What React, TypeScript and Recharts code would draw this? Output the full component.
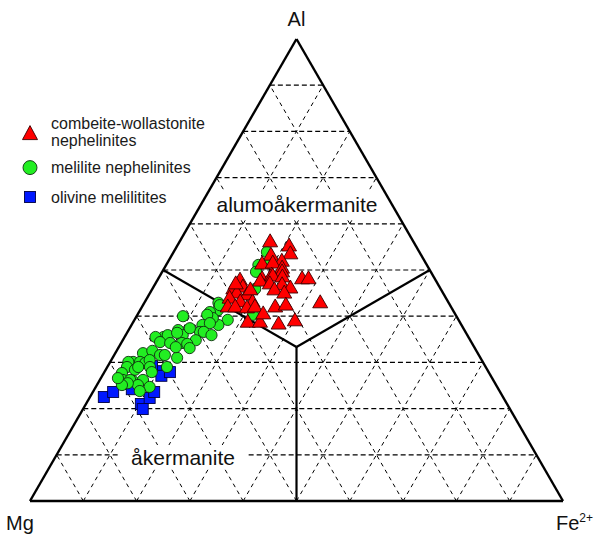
import React from 'react';
import { ScatterChart, Scatter, XAxis, YAxis, ReferenceLine, Legend } from 'recharts';

// Ternary compositions in percent: [Al, Fe2+]; Mg = 100 - Al - Fe2+
const combeiteWollastoniteNephelinites: [number, number][] = [
  [56.1, 17.0], [55.2, 21.0], [53.2, 18.6], [53.5, 22.1], [51.9, 21.3], [51.3, 17.9], [51.5, 19.8],
  [50.4, 22.1], [47.8, 15.5], [48.1, 19.5], [48.9, 20.9], [49.6, 22.5], [48.1, 27.0], [48.1, 28.2],
  [48.7, 21.2], [48.5, 23.1], [47.6, 19.4], [47.0, 21.5], [46.8, 23.9], [46.1, 25.8], [45.7, 23.0],
  [45.0, 25.2], [45.9, 15.2], [46.3, 16.8], [45.0, 16.3], [44.6, 18.4], [43.9, 15.5], [43.1, 17.9],
  [43.1, 20.2], [42.0, 16.1], [42.0, 17.5], [41.8, 19.8], [42.0, 21.2], [42.0, 25.0], [42.4, 26.8],
  [42.9, 33.0], [38.7, 21.5], [38.7, 23.8], [38.3, 27.5], [39.0, 30.2], [40.5, 23.5], [47.0, 15.1],
  [45.7, 18.5],
];

const meliliteNephelinites: [number, number][] = [
  [51.1, 17.3], [53.9, 17.5], [51.7, 19.1], [49.6, 17.6], [45.9, 19.3], [40.3, 21.7], [39.2, 17.5],
  [42.9, 13.9], [41.3, 14.6], [40.9, 13.3], [38.1, 16.3], [39.6, 14.5], [40.3, 13.1], [38.1, 13.3],
  [38.5, 14.5], [36.6, 13.6], [40.0, 8.7], [37.0, 9.3], [35.9, 10.7], [37.4, 11.3], [34.8, 13.7],
  [36.6, 14.3], [35.9, 16.1], [35.5, 7.3], [35.5, 5.8], [35.9, 7.9], [34.4, 7.2], [34.2, 9.2],
  [34.2, 11.4], [36.4, 9.4], [34.0, 12.5], [33.1, 13.4], [32.0, 5.2], [32.5, 6.7], [31.6, 8.6],
  [31.6, 9.5], [31.0, 12.1], [33.3, 10.7], [30.1, 4.3], [30.1, 5.6], [29.9, 6.7], [30.5, 7.2],
  [30.1, 3.4], [29.0, 3.7], [28.4, 5.5], [29.0, 5.8], [29.0, 8.0], [29.0, 11.2], [27.9, 8.9],
  [27.7, 3.4], [26.2, 4.3], [26.0, 6.3], [26.2, 8.1], [26.2, 5.7], [25.1, 7.7], [25.5, 5.6],
  [25.1, 4.7], [24.7, 10.1], [23.8, 8.7], [26.6, 3.2], [42.4, 14.4],
];

const olivineMelilitites: [number, number][] = [
  [22.5, 2.6], [23.6, 3.8], [24.2, 7.0], [21.0, 10.3], [19.9, 11.2], [22.3, 11.3], [23.6, 11.5],
  [28.1, 9.7], [27.1, 11.1], [27.9, 12.3], [29.2, 8.3],
];

const seriesNames = ['combeite-wollastonite nephelinites', 'melilite nephelinites', 'olivine melilitites'];
const gridSteps = [10, 20, 30, 40, 50, 60, 70, 80, 90];

const H = Math.sqrt(3) / 2;
const toXY = (al: number, fe: number) => ({ x: fe / 100 + al / 200, y: (al / 100) * H });
const toPts = (arr: [number, number][]) => arr.map(([al, fe]) => toXY(al, fe));

const RED = '#ff0000';
const GREEN = '#22ee22';
const BLUE = '#0018ff';

const Tri = (p: any) => {
  const { cx, cy } = p;
  if (cx == null || cy == null) return <g />;
  return (
    <path
      d={`M${cx},${cy - 8}L${cx + 7.5},${cy + 5}L${cx - 7.5},${cy + 5}Z`}
      fill={RED}
      stroke="#3a0000"
      strokeWidth={0.9}
    />
  );
};
const Circ = (p: any) => {
  const { cx, cy } = p;
  if (cx == null || cy == null) return <g />;
  return <circle cx={cx} cy={cy} r={5.6} fill={GREEN} stroke="#103010" strokeWidth={0.9} />;
};
const Sq = (p: any) => {
  const { cx, cy } = p;
  if (cx == null || cy == null) return <g />;
  return <rect x={cx - 5.5} y={cy - 5.5} width={11} height={11} fill={BLUE} stroke="#000040" strokeWidth={0.9} />;
};

type Seg = [{ x: number; y: number }, { x: number; y: number }];

const gridSegs: Seg[] = [];
gridSteps.forEach((t) => {
  // constant Al
  gridSegs.push([toXY(t, 0), toXY(t, 100 - t)]);
  // constant Fe
  gridSegs.push([toXY(0, t), toXY(100 - t, t)]);
  // constant Mg
  gridSegs.push([toXY(0, 100 - t), toXY(100 - t, 0)]);
});

const C = 100 / 3;
const boundarySegs: Seg[] = [
  [toXY(50, 0), toXY(C, C)],
  [toXY(50, 50), toXY(C, C)],
  [toXY(0, 50), toXY(C, C)],
];
const outlineSegs: Seg[] = [
  [toXY(0, 0), toXY(0, 100)],
  [toXY(0, 100), toXY(100, 0)],
  [toXY(100, 0), toXY(0, 0)],
];

const FONT = '"Liberation Sans", Arial, Helvetica, sans-serif';

const LegendContent = () => (
  <svg width={240} height={100} style={{ display: 'block', fontFamily: FONT }}>
    <path d="M30,15.6L37.5,29.6L22.5,29.6Z" fill={RED} stroke="#3a0000" strokeWidth={0.9} />
    <text x={51} y={18.5} fontSize={16} fill="#1a1a1a">combeite-wollastonite</text>
    <text x={51} y={36} fontSize={16} fill="#1a1a1a">nephelinites</text>
    <circle cx={30} cy={57.6} r={7} fill={GREEN} stroke="#103010" strokeWidth={0.9} />
    <text x={51} y={63} fontSize={16} fill="#1a1a1a">melilite nephelinites</text>
    <rect x={24.5} y={81.5} width={11} height={11} fill={BLUE} stroke="#000040" strokeWidth={0.9} />
    <text x={51} y={92.5} fontSize={16} fill="#1a1a1a">olivine melilitites</text>
  </svg>
);

export default function App() {
  return (
    <div style={{ position: 'absolute', left: 0, top: 0, width: 597, height: 537, background: '#fff' }}>
      <ScatterChart width={597} height={537} margin={{ top: 39, right: 34, bottom: 36, left: 30 }}>
        <XAxis type="number" dataKey="x" domain={[0, 1]} scale="linear" allowDataOverflow hide />
        <YAxis type="number" dataKey="y" domain={[0, H]} scale="linear" allowDataOverflow hide />
        {gridSegs.map((s, i) => (
          <ReferenceLine
            key={'g' + i}
            segment={s}
            stroke="#000"
            strokeWidth={i % 3 === 0 ? 1.2 : 1}
            strokeDasharray={i % 3 === 0 ? '5 3' : '4 4'}
          />
        ))}
        {boundarySegs.map((s, i) => (
          <ReferenceLine key={'b' + i} segment={s} stroke="#000" strokeWidth={2.2} />
        ))}
        {outlineSegs.map((s, i) => (
          <ReferenceLine key={'o' + i} segment={s} stroke="#000" strokeWidth={2.4} />
        ))}
        <Legend
          layout="vertical"
          align="center"
          verticalAlign="middle"
          wrapperStyle={{ left: 0, top: 110, width: 240, height: 100 }}
          content={() => <LegendContent />}
        />
        <Scatter name={seriesNames[2]} data={toPts(olivineMelilitites)} shape={Sq} isAnimationActive={false} />
        <Scatter name={seriesNames[1]} data={toPts(meliliteNephelinites)} shape={Circ} isAnimationActive={false} />
        <Scatter name={seriesNames[0]} data={toPts(combeiteWollastoniteNephelinites)} shape={Tri} isAnimationActive={false} />
      </ScatterChart>
      <svg
        width={597}
        height={537}
        style={{ position: 'absolute', left: 0, top: 0, pointerEvents: 'none', fontFamily: FONT }}
      >
        <text x={296.5} y={25.8} fontSize={20} textAnchor="middle" fill="#111">Al</text>
        <text x={6} y={530} fontSize={20} fill="#111">Mg</text>
        <text x={556} y={530} fontSize={20} fill="#111">
          Fe<tspan fontSize={12} dy={-8}>2+</tspan>
        </text>
        <rect x={211} y={192} width={172} height={25} fill="#fff" />
        <text x={297} y={212} fontSize={21} textAnchor="middle" fill="#111">alumoåkermanite</text>
        <rect x={119} y={445} width={128} height={23} fill="#fff" />
        <text x={183} y={465} fontSize={21} textAnchor="middle" fill="#111">åkermanite</text>
      </svg>
    </div>
  );
}
